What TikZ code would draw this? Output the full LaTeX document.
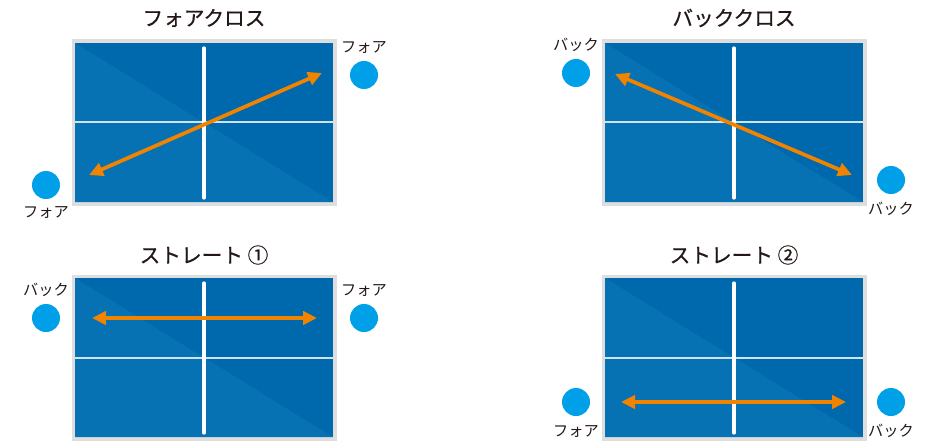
\documentclass[tikz,border=0pt]{standalone}
\usepackage{fontspec}
\newfontfamily\jp{Noto Sans CJK JP}
\newfontfamily\jpt[FakeBold=0.6]{Noto Sans CJK JP}
\usetikzlibrary{arrows.meta}
\definecolor{tblue}{HTML}{0068AC}
\definecolor{tbluel}{HTML}{0671B3}
\definecolor{tframe}{HTML}{DEDEDE}
\definecolor{tline}{HTML}{CFE4F3}
\definecolor{ball}{HTML}{00A0E9}
\definecolor{arr}{HTML}{F08300}
\definecolor{ink}{HTML}{231815}
\begin{document}
\begin{tikzpicture}[x=0.75pt,y=-0.75pt,
 title/.style={font=\jpt\fontsize{15.5pt}{16pt}\selectfont, text=ink, inner sep=0pt},
 lab/.style={font=\jp\fontsize{11.4pt}{12pt}\selectfont, text=ink, inner sep=0pt},
 ballnode/.style={circle, fill=ball, minimum size=21pt, inner sep=0pt},
 shot/.style={draw=arr, line width=2.8pt, {Triangle[length=10.5pt,width=10pt]}-{Triangle[length=10.5pt,width=10pt]}},
]
\useasboundingbox (0,0) rectangle (934,442);

\newcommand\mytable[2]{%
 \fill[tframe] (#1-3.5,#2-3.5) rectangle (#1+261.5,#2+162.5);
 \fill[tblue] (#1,#2) rectangle (#1+258,#2+159);
 \fill[tbluel] (#1,#2) -- (#1,#2+159) -- (#1+258,#2+159) -- cycle;
 \draw[tline, line width=1.5pt] (#1,#2+79.5) -- (#1+258,#2+79.5);
 \draw[white, line width=2.4pt, line cap=round] (#1+129,#2+5) -- (#1+129,#2+155);
}

\mytable{75}{43}
\mytable{605}{43}
\mytable{75}{278}
\mytable{605}{278}

% titles
\node[title] (t1) at (204,18) {フォアクロス};
\node[title] (t2) at (734,18) {バッククロス};
\node[title] (t3) at (204,255) {ストレート ①};
\node[title] (t4) at (734,255) {ストレート ②};

% players
\node[ballnode] (b1l) at (46,185) {};
\node[lab] (l1l) at (46,212) {フォア};
\node[ballnode] (b1r) at (364,75) {};
\node[lab] (l1r) at (364,47) {フォア};

\node[ballnode] (b2l) at (576,73) {};
\node[lab] (l2l) at (576,45) {バック};
\node[ballnode] (b2r) at (891,180) {};
\node[lab] (l2r) at (891,209) {バック};

\node[ballnode] (b3l) at (46,318) {};
\node[lab] (l3l) at (46,290) {バック};
\node[ballnode] (b3r) at (364,318) {};
\node[lab] (l3r) at (364,290) {フォア};

\node[ballnode] (b4l) at (576,402) {};
\node[lab] (l4l) at (576,431) {フォア};
\node[ballnode] (b4r) at (891,402) {};
\node[lab] (l4r) at (891,431) {バック};

% shots
\coordinate (a1s) at (89,175);
\coordinate (a1e) at (322,73);
\coordinate (a2s) at (615,74);
\coordinate (a2e) at (852,175);
\coordinate (a3s) at (92,318);
\coordinate (a3e) at (317,318);
\coordinate (a4s) at (621,402);
\coordinate (a4e) at (846,402);
\draw[shot] (a1s) -- (a1e);
\draw[shot] (a2s) -- (a2e);
\draw[shot] (a3s) -- (a3e);
\draw[shot] (a4s) -- (a4e);
\end{tikzpicture}
\end{document}
